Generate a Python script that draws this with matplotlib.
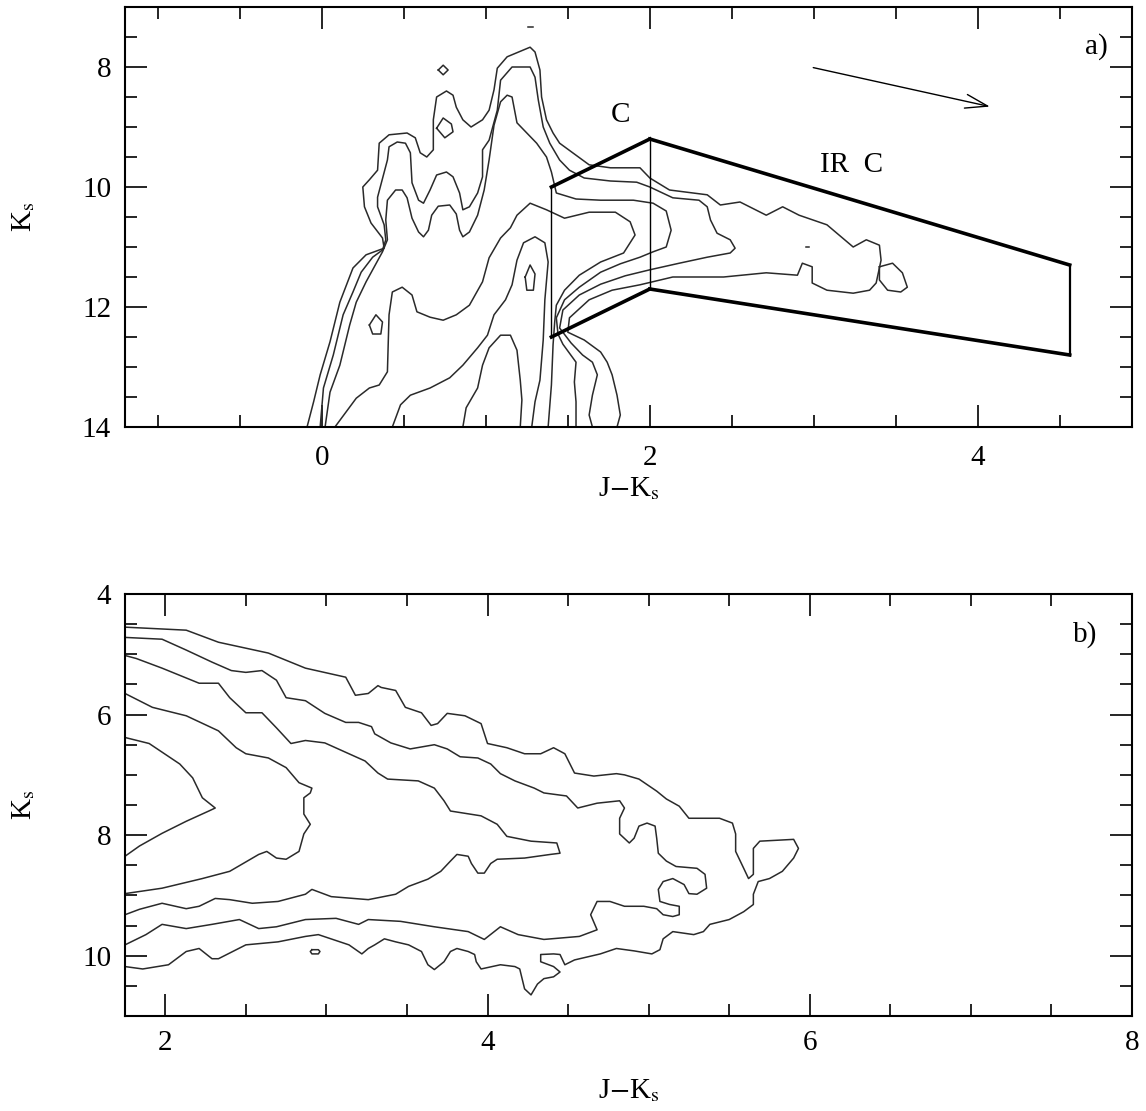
import numpy as np
import matplotlib.pyplot as plt
from matplotlib.ticker import MultipleLocator

plt.rcParams['font.family'] = ['Liberation Serif', 'DejaVu Serif']
plt.rcParams['mathtext.fontset'] = 'stix'

# ---- panel a) contours (J-Ks, Ks) ----
a_c1 = [(-0.09, 14.0), (-0.05, 13.58), (-0.01, 13.13), (0.05, 12.58), (0.11, 11.92), (0.19, 11.35),
        (0.27, 11.13), (0.33, 11.07), (0.38, 11.02), (0.37, 10.85), (0.30, 10.6), (0.26, 10.33),
        (0.25, 10.0), (0.29, 9.88), (0.34, 9.72), (0.35, 9.27), (0.41, 9.13), (0.52, 9.10), (0.57, 9.18),
        (0.60, 9.43), (0.64, 9.50), (0.68, 9.38), (0.68, 8.88), (0.70, 8.50), (0.76, 8.40), (0.80, 8.47),
        (0.82, 8.67), (0.86, 8.88), (0.91, 9.00), (0.98, 8.88), (1.02, 8.72), (1.05, 8.38), (1.07, 8.02),
        (1.13, 7.83), (1.27, 7.67), (1.30, 7.75), (1.33, 8.05), (1.34, 8.50), (1.37, 8.88), (1.41, 9.10),
        (1.45, 9.27), (1.53, 9.43), (1.63, 9.63), (1.76, 9.68), (1.94, 9.68), (2.00, 9.85), (2.12, 10.05),
        (2.35, 10.13), (2.43, 10.30), (2.55, 10.25), (2.71, 10.47), (2.81, 10.33), (2.91, 10.47),
        (3.08, 10.63), (3.24, 11.0), (3.32, 10.88), (3.40, 10.97), (3.41, 11.22), (3.38, 11.60),
        (3.34, 11.72), (3.24, 11.77), (3.08, 11.72), (2.99, 11.60), (2.99, 11.33), (2.93, 11.27),
        (2.90, 11.47), (2.71, 11.43), (2.45, 11.50), (2.14, 11.50), (1.94, 11.63), (1.77, 11.72),
        (1.63, 11.88), (1.51, 12.18), (1.50, 12.42), (1.60, 12.55), (1.70, 12.75), (1.74, 12.92),
        (1.77, 13.13), (1.80, 13.47), (1.82, 13.80), (1.80, 14.0)]
a_c2 = [(-0.01, 14.0), (0.01, 13.35), (0.07, 12.8), (0.13, 12.13), (0.19, 11.75), (0.24, 11.42),
        (0.31, 11.17), (0.37, 11.05), (0.39, 10.88), (0.38, 10.63), (0.34, 10.33), (0.34, 10.17),
        (0.40, 9.55), (0.41, 9.33), (0.46, 9.25), (0.51, 9.27), (0.54, 9.43), (0.55, 9.93), (0.59, 10.22),
        (0.62, 10.27), (0.66, 10.05), (0.70, 9.8), (0.76, 9.75), (0.80, 9.83), (0.84, 10.1), (0.86, 10.38),
        (0.90, 10.33), (0.95, 10.1), (0.98, 9.83), (0.98, 9.38), (1.02, 9.22), (1.07, 8.72), (1.09, 8.22),
        (1.16, 8.0), (1.27, 8.0), (1.30, 8.17), (1.32, 8.55), (1.35, 9.0), (1.39, 9.27), (1.45, 9.55),
        (1.51, 9.72), (1.60, 9.85), (1.76, 9.9), (1.92, 9.92), (2.00, 10.0), (2.14, 10.18), (2.30, 10.22),
        (2.35, 10.33), (2.37, 10.55), (2.41, 10.77), (2.49, 10.88), (2.52, 11.02), (2.49, 11.1),
        (2.35, 11.17), (2.18, 11.27), (2.00, 11.38), (1.85, 11.48), (1.70, 11.62), (1.57, 11.8),
        (1.47, 12.05), (1.45, 12.35), (1.52, 12.6), (1.59, 12.8), (1.65, 12.92), (1.68, 13.13),
        (1.65, 13.47), (1.63, 13.8), (1.65, 14.0)]
a_c3 = [(0.02, 14.0), (0.05, 13.42), (0.11, 12.97), (0.17, 12.3), (0.21, 11.92), (0.27, 11.58),
        (0.37, 11.08), (0.40, 10.88), (0.39, 10.55), (0.40, 10.22), (0.45, 10.05), (0.49, 10.05),
        (0.52, 10.18), (0.55, 10.52), (0.59, 10.75), (0.62, 10.83), (0.65, 10.72), (0.67, 10.47),
        (0.71, 10.32), (0.78, 10.3), (0.82, 10.45), (0.84, 10.72), (0.86, 10.83), (0.90, 10.75),
        (0.95, 10.47), (0.99, 10.05), (1.02, 9.55), (1.05, 8.97), (1.09, 8.58), (1.13, 8.47), (1.16, 8.5),
        (1.19, 8.93), (1.25, 9.1), (1.31, 9.27), (1.37, 9.5), (1.40, 9.75), (1.43, 10.1), (1.55, 10.2),
        (1.70, 10.22), (1.90, 10.22), (2.02, 10.27), (2.10, 10.4), (2.13, 10.72), (2.10, 11.0),
        (2.02, 11.08), (1.94, 11.17), (1.82, 11.28), (1.70, 11.42), (1.57, 11.67), (1.48, 11.88),
        (1.43, 12.18), (1.44, 12.45), (1.47, 12.62), (1.55, 12.92), (1.54, 13.25), (1.55, 13.58),
        (1.55, 14.0)]
a_c4 = [(0.08, 14.0), (0.21, 13.52), (0.29, 13.35), (0.35, 13.3), (0.40, 13.08), (0.41, 12.13),
        (0.43, 11.75), (0.49, 11.67), (0.55, 11.8), (0.58, 12.08), (0.66, 12.17), (0.74, 12.22),
        (0.82, 12.13), (0.90, 11.97), (0.98, 11.58), (1.02, 11.18), (1.09, 10.85), (1.15, 10.68),
        (1.19, 10.47), (1.27, 10.27), (1.37, 10.38), (1.48, 10.52), (1.63, 10.42), (1.79, 10.42),
        (1.88, 10.58), (1.91, 10.8), (1.84, 11.1), (1.70, 11.25), (1.57, 11.47), (1.48, 11.72),
        (1.43, 11.97), (1.42, 12.25), (1.41, 12.63), (1.40, 13.3), (1.38, 14.0)]
a_c5 = [(0.43, 14.0), (0.48, 13.63), (0.54, 13.47), (0.66, 13.35), (0.78, 13.18), (0.86, 12.97),
        (0.95, 12.68), (1.01, 12.47), (1.05, 12.13), (1.12, 11.88), (1.16, 11.63), (1.19, 11.22),
        (1.23, 10.93), (1.30, 10.83), (1.36, 10.93), (1.38, 11.25), (1.36, 11.88), (1.35, 12.55),
        (1.33, 13.22), (1.30, 13.58), (1.28, 14.0)]
a_c6 = [(0.86, 14.0), (0.88, 13.68), (0.95, 13.35), (0.98, 12.97), (1.02, 12.68), (1.09, 12.47),
        (1.15, 12.47), (1.19, 12.72), (1.21, 13.22), (1.22, 13.55), (1.21, 14.0)]
a_blob = [(3.40, 11.33), (3.48, 11.27), (3.54, 11.43), (3.57, 11.67), (3.53, 11.75), (3.45, 11.72),
          (3.40, 11.55), (3.40, 11.33)]
a_ring1 = [(0.71, 8.05), (0.74, 7.97), (0.77, 8.05), (0.74, 8.13), (0.71, 8.05)]
a_ring2 = [(0.70, 9.02), (0.74, 8.85), (0.79, 8.95), (0.80, 9.08), (0.75, 9.18), (0.70, 9.02)]
a_ring3 = [(0.29, 12.3), (0.33, 12.13), (0.37, 12.25), (0.36, 12.45), (0.31, 12.45), (0.29, 12.3)]
a_ring4 = [(1.24, 11.5), (1.27, 11.3), (1.30, 11.45), (1.29, 11.72), (1.25, 11.72), (1.24, 11.5)]
a_dot1 = [(2.95, 11.0), (2.97, 11.0)]
a_dot2 = [(1.26, 7.33), (1.29, 7.33)]

# selection boxes: C and IR C
box_c_x = [1.4, 2.0, 2.0, 1.4]
box_c_y = [10.0, 9.2, 11.7, 12.5]
box_irc_x = [2.0, 4.56, 4.56, 2.0]
box_irc_y = [9.2, 11.3, 12.8, 11.7]
redden_tail = (2.98, 8.0)
redden_head = (4.09, 8.67)

# ---- panel b) contours ----
b_c1 = [(1.75, 4.55), (2.13, 4.60), (2.33, 4.80), (2.64, 4.98), (2.87, 5.23), (3.12, 5.38), (3.18, 5.68),
        (3.26, 5.65), (3.32, 5.52), (3.34, 5.55), (3.43, 5.60), (3.49, 5.88), (3.59, 5.97), (3.65, 6.18),
        (3.69, 6.15), (3.75, 5.98), (3.86, 6.02), (3.96, 6.15), (4.00, 6.48), (4.12, 6.55), (4.23, 6.65),
        (4.33, 6.65), (4.41, 6.55), (4.48, 6.65), (4.54, 6.97), (4.66, 7.02), (4.80, 6.98), (4.85, 7.00),
        (4.94, 7.07), (5.05, 7.27), (5.11, 7.40), (5.19, 7.52), (5.25, 7.72), (5.44, 7.72), (5.52, 7.80),
        (5.54, 7.98), (5.54, 8.27), (5.59, 8.55), (5.62, 8.72), (5.65, 8.65), (5.65, 8.22), (5.69, 8.10),
        (5.90, 8.07), (5.93, 8.22), (5.90, 8.38), (5.83, 8.60), (5.75, 8.72), (5.68, 8.77), (5.65, 8.98),
        (5.65, 9.15), (5.59, 9.27), (5.50, 9.40), (5.38, 9.48), (5.34, 9.60), (5.28, 9.65), (5.15, 9.60),
        (5.09, 9.72), (5.07, 9.90), (5.02, 9.97), (4.91, 9.92), (4.80, 9.88), (4.70, 9.97), (4.54, 10.07),
        (4.48, 10.15), (4.45, 9.98), (4.41, 9.97), (4.33, 9.98), (4.33, 10.10), (4.41, 10.18), (4.45, 10.27),
        (4.41, 10.35), (4.35, 10.38), (4.31, 10.47), (4.27, 10.65), (4.23, 10.55), (4.20, 10.22),
        (4.17, 10.18), (4.08, 10.15), (3.96, 10.22), (3.93, 10.10), (3.92, 9.98), (3.88, 9.93),
        (3.81, 9.88), (3.77, 9.93), (3.73, 10.10), (3.67, 10.23), (3.63, 10.15), (3.59, 9.93),
        (3.51, 9.82), (3.43, 9.77), (3.36, 9.72), (3.30, 9.82), (3.26, 9.88), (3.22, 9.97), (3.14, 9.82),
        (2.95, 9.65), (2.87, 9.68), (2.70, 9.77), (2.50, 9.82), (2.33, 10.05), (2.29, 10.05), (2.21, 9.88),
        (2.13, 9.93), (2.02, 10.15), (1.86, 10.22), (1.75, 10.18)]
b_c2 = [(1.75, 4.72), (1.98, 4.75), (2.13, 4.93), (2.29, 5.13), (2.41, 5.27), (2.50, 5.30), (2.60, 5.27),
        (2.69, 5.43), (2.75, 5.72), (2.87, 5.77), (2.99, 5.98), (3.12, 6.13), (3.20, 6.13), (3.28, 6.20),
        (3.30, 6.32), (3.40, 6.47), (3.52, 6.57), (3.67, 6.50), (3.75, 6.57), (3.83, 6.70), (3.94, 6.72),
        (4.02, 6.82), (4.08, 6.98), (4.17, 7.10), (4.29, 7.22), (4.35, 7.30), (4.49, 7.35), (4.56, 7.55),
        (4.68, 7.47), (4.82, 7.43), (4.85, 7.55), (4.82, 7.72), (4.82, 7.98), (4.88, 8.13), (4.91, 8.05),
        (4.94, 7.85), (4.99, 7.80), (5.04, 7.85), (5.05, 8.05), (5.06, 8.30), (5.11, 8.43), (5.17, 8.52),
        (5.30, 8.55), (5.35, 8.65), (5.36, 8.88), (5.30, 8.98), (5.25, 8.97), (5.22, 8.82), (5.15, 8.72),
        (5.09, 8.77), (5.06, 8.90), (5.07, 9.10), (5.13, 9.15), (5.19, 9.18), (5.19, 9.32), (5.15, 9.35),
        (5.09, 9.32), (5.05, 9.22), (4.97, 9.18), (4.85, 9.18), (4.76, 9.10), (4.68, 9.10), (4.64, 9.32),
        (4.68, 9.57), (4.57, 9.68), (4.35, 9.73), (4.19, 9.65), (4.08, 9.52), (3.98, 9.73), (3.88, 9.60),
        (3.67, 9.52), (3.46, 9.43), (3.26, 9.40), (3.20, 9.48), (3.06, 9.38), (2.87, 9.40), (2.69, 9.52),
        (2.58, 9.55), (2.46, 9.40), (2.29, 9.48), (2.13, 9.55), (1.98, 9.48), (1.88, 9.65), (1.75, 9.82)]
b_c3 = [(1.75, 5.02), (1.82, 5.07), (1.98, 5.23), (2.21, 5.48), (2.33, 5.48), (2.40, 5.72), (2.50, 5.97),
        (2.60, 5.97), (2.69, 6.22), (2.78, 6.48), (2.87, 6.43), (2.99, 6.47), (3.14, 6.65), (3.24, 6.77),
        (3.32, 6.97), (3.38, 7.07), (3.57, 7.10), (3.67, 7.22), (3.73, 7.43), (3.77, 7.60), (3.96, 7.68),
        (4.06, 7.82), (4.12, 8.02), (4.27, 8.10), (4.43, 8.13), (4.45, 8.30), (4.39, 8.32), (4.23, 8.38),
        (4.06, 8.40), (4.02, 8.47), (3.98, 8.63), (3.94, 8.63), (3.90, 8.47), (3.88, 8.35), (3.81, 8.32),
        (3.77, 8.43), (3.71, 8.60), (3.63, 8.73), (3.51, 8.85), (3.43, 8.98), (3.26, 9.07), (3.03, 9.02),
        (2.91, 8.90), (2.87, 8.98), (2.70, 9.10), (2.54, 9.13), (2.40, 9.07), (2.31, 9.05), (2.21, 9.18),
        (2.13, 9.22), (1.98, 9.13), (1.84, 9.23), (1.75, 9.32)]
b_c4 = [(1.75, 5.65), (1.92, 5.88), (2.13, 6.02), (2.33, 6.27), (2.44, 6.55), (2.50, 6.65), (2.64, 6.72),
        (2.75, 6.88), (2.83, 7.13), (2.91, 7.22), (2.90, 7.30), (2.86, 7.38), (2.86, 7.65), (2.90, 7.82),
        (2.86, 7.98), (2.83, 8.27), (2.75, 8.40), (2.69, 8.38), (2.63, 8.27), (2.58, 8.32), (2.40, 8.60),
        (2.23, 8.72), (1.98, 8.88), (1.75, 8.97)]
b_c5 = [(1.75, 6.38), (1.90, 6.48), (2.09, 6.82), (2.17, 7.05), (2.23, 7.38), (2.31, 7.55), (2.27, 7.60),
        (2.13, 7.77), (1.98, 7.97), (1.84, 8.18), (1.75, 8.35)]
b_ring = [(2.91, 9.90), (2.95, 9.90), (2.96, 9.93), (2.95, 9.97), (2.91, 9.97), (2.90, 9.93), (2.91, 9.90)]

a_contours = [a_c1, a_c2, a_c3, a_c4, a_c5, a_c6, a_blob, a_ring1, a_ring2, a_ring3, a_ring4,
              a_dot1, a_dot2]
b_contours = [b_c1, b_c2, b_c3, b_c4, b_c5, b_ring]

fig = plt.figure(figsize=(11.46, 11.11), dpi=100)
ax1 = fig.add_axes([125 / 1146, 1 - 427 / 1111, 1007 / 1146, 420 / 1111])
ax2 = fig.add_axes([125 / 1146, 1 - 1016 / 1111, 1007 / 1146, 422 / 1111])

line_col = '#2a2a2a'
for c in a_contours:
    xs, ys = zip(*c)
    ax1.plot(xs, ys, color=line_col, lw=1.1)
for c in b_contours:
    xs, ys = zip(*c)
    ax2.plot(xs, ys, color=line_col, lw=1.1)

# boxes: thick top/bottom edges, thin verticals
ax1.plot(box_c_x[:2], box_c_y[:2], color='k', lw=2.6)
ax1.plot(box_c_x[2:], box_c_y[2:], color='k', lw=2.6)
ax1.plot([box_c_x[0], box_c_x[3]], [box_c_y[0], box_c_y[3]], color='k', lw=1.0)
ax1.plot([box_c_x[1], box_c_x[2]], [box_c_y[1], box_c_y[2]], color='k', lw=1.0)
ax1.plot(box_irc_x[:2], box_irc_y[:2], color='k', lw=2.6)
ax1.plot(box_irc_x[2:], box_irc_y[2:], color='k', lw=2.6)
ax1.plot(box_irc_x[1:3], box_irc_y[1:3], color='k', lw=1.6)

ax1.annotate('', xy=redden_head, xytext=redden_tail,
             arrowprops=dict(arrowstyle='->,head_length=1.6,head_width=0.5', color='k', lw=1.0))
ax1.text(1.82, 8.8, 'C', fontsize=21, ha='center', va='center')
ax1.text(3.23, 9.63, 'IR  C', fontsize=21, ha='center', va='center')
ax1.text(0.965, 0.905, 'a)', transform=ax1.transAxes, fontsize=21, ha='center', va='center')
ax2.text(0.953, 0.905, 'b)', transform=ax2.transAxes, fontsize=21, ha='center', va='center')

ax1.set_xlim(-1.2, 4.94)
ax1.set_ylim(14, 7)
ax2.set_xlim(1.75, 8)
ax2.set_ylim(11, 4)

for ax in (ax1, ax2):
    ax.xaxis.set_major_locator(MultipleLocator(2))
    ax.xaxis.set_minor_locator(MultipleLocator(0.5))
    ax.yaxis.set_major_locator(MultipleLocator(2))
    ax.yaxis.set_minor_locator(MultipleLocator(0.5))
    ax.tick_params(which='both', direction='in', top=True, right=True, labelsize=21, width=1.2, pad=10)
    ax.tick_params(which='major', length=16)
    ax.tick_params(which='minor', length=8.5)
    for s in ax.spines.values():
        s.set_linewidth(1.5)
    ax.set_ylabel(r'K$_{\rm s}$', fontsize=21, labelpad=32)

ax1.tick_params(axis='x', which='both', pad=13)
ax1.set_xlabel(r'J$-$K$_{\rm s}$', fontsize=21, labelpad=3)
ax2.set_xlabel(r'J$-$K$_{\rm s}$', fontsize=21, labelpad=15)

fig.savefig('out.png', dpi=100)
